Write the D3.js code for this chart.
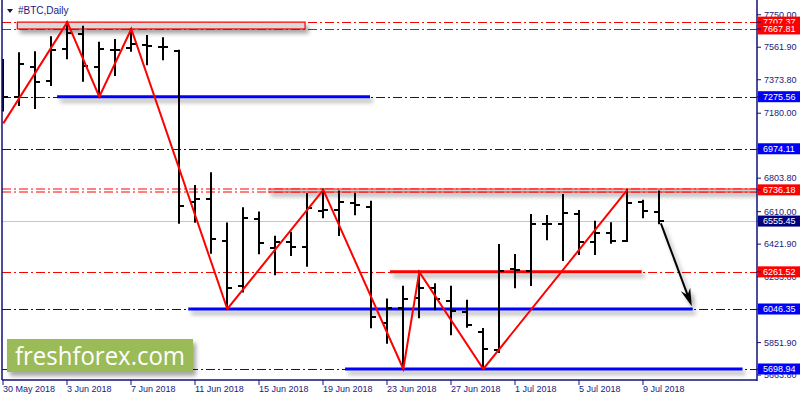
<!DOCTYPE html>
<html><head><meta charset="utf-8">
<script src="https://cdn.jsdelivr.net/npm/d3@7"></script>
<style>html,body{margin:0;padding:0;background:#fff;}svg{display:block;}</style>
</head><body>
<svg id="c" width="800" height="400"></svg>
<script>
// ---- data ----
const startDate = "2018-05-30";
const opens  = [7230,7272,7449,7366,7550,7639,7449,7546,7556,7575,7565,7542,6668,6683,6442,6180,6570,6398,6436,6407,6616,6620,6662,6639,5964,6054,6112,6166,6094,6031,5911,5809,6276,6266,6537,6537,6595,6432,6485,6440,6668,6610];
const highs  = [7488,7527,7533,7620,7707,7681,7588,7604,7668,7627,7614,7542,6758,6832,6542,6629,6605,6465,6488,6712,6738,6726,6712,6668,6102,6175,6262,6189,6175,6094,5931,6417,6359,6591,6585,6707,6614,6552,6543,6736,6673,6726];
const lows   = [7195,7228,7210,7343,7498,7368,7276,7401,7542,7463,7492,6546,6552,6372,6047,6147,6369,6247,6359,6297,6577,6475,6595,5940,5851,5699,5998,6045,5900,5944,5699,5797,6172,6185,6450,6330,6365,6365,6430,6440,6577,6543];
const closes = [7272,7463,7362,7546,7643,7453,7550,7546,7581,7569,7565,6644,6683,6452,6166,6575,6426,6436,6407,6633,6620,6668,6649,5998,6050,6102,6166,6102,6035,5954,5815,6266,6272,6537,6537,6604,6432,6485,6440,6662,6614,6555.45];

const yTicks = [7750.00,7561.90,7373.80,7180.00,6803.80,6610.00,6421.90,6233.80,5851.90,5663.80];
const xTickDays = [0,4,8,12,16,20,24,28,32,36,40];

// level lines: price, colour, thick segment (day index from/to)
const levelPrices = [7707.37,7667.81,7275.56,6974.11,6736.18,6261.52,6046.35,5698.94];
const levelColors = ["#ff0000","#ff0000","#0000ff","#0000ff","#ff0000","#ff0000","#0000ff","#0000ff"];
const segFrom = [null,null,3.36,null,16.54,24.17,11.56,21.36];
const segTo   = [null,null,22.92,null,47.2,39.9,43.09,46.2];
const bidPrice = 6555.45;

const rectBox = {from:0.875, to:18.86, top:7707.37, bottom:7667.81};

const zigDays   = [0,4,6,8,14,20,25,26,30,39];
const zigPrices = [7121,7707.37,7275.56,7667.81,6046.35,6736.18,5698.94,6261.52,5698.94,6736.18];

const arrowDays   = [41.1,43.03];
const arrowPrices = [6542,6062];

// ---- scales ----
const W=800,H=400, L=2, R=757, T=2, B=380;
const base = d3.utcParse("%Y-%m-%d")(startDate);
const dayDate = i => new Date(base.getTime()+i*864e5);
const x = d3.scaleUtc().domain([base, dayDate(40)]).range([3.3, 643.3]);
const xi = i => x(dayDate(i));
const y = d3.scaleLinear().domain([7275.56,5698.94]).range([96.7,369]);

const svg = d3.select("#c");
const defs = svg.append("defs");
const f = defs.append("filter").attr("id","sh").attr("filterUnits","userSpaceOnUse")
  .attr("x",0).attr("y",0).attr("width",W).attr("height",H);
f.append("feDropShadow").attr("dx",3).attr("dy",4).attr("stdDeviation",2.2).attr("flood-color","#000").attr("flood-opacity",0.35);
defs.append("clipPath").attr("id","clip").append("rect").attr("x",L).attr("y",T).attr("width",R-L).attr("height",B-T);

const g = svg.append("g").attr("clip-path","url(#clip)");

// bid line
g.append("line").attr("x1",L).attr("x2",R).attr("y1",Math.round(y(bidPrice))+0.5).attr("y2",Math.round(y(bidPrice))+0.5).attr("stroke","#c8c8c8").attr("stroke-width",1);

// dash-dot level lines
levelPrices.forEach((p,i)=>{
  const yy = Math.round(y(p))+0.5;
  if(p===6736.18){
    [-1.5,1.5].forEach(o=>g.append("line").attr("x1",L).attr("x2",R).attr("y1",yy+o).attr("y2",yy+o)
      .attr("stroke",levelColors[i]).attr("stroke-width",1).attr("stroke-dasharray","9,3,2,3"));
  } else {
    g.append("line").attr("x1",L).attr("x2",R).attr("y1",yy).attr("y2",yy)
      .attr("stroke",levelColors[i]).attr("stroke-width",1).attr("stroke-dasharray","9,3,2,3");
  }
});

// rectangle
g.append("rect").attr("x",xi(rectBox.from)).attr("y",y(rectBox.top))
  .attr("width",xi(rectBox.to)-xi(rectBox.from)).attr("height",y(rectBox.bottom)-y(rectBox.top))
  .attr("fill","#d9d9d9").attr("stroke","#ff0000").attr("stroke-width",1.2).attr("filter","url(#sh)");

// thick segments
levelPrices.forEach((p,i)=>{
  if(segFrom[i]===null) return;
  const yy = y(p);
  if(p===6736.18){
    const gg = g.append("g").attr("filter","url(#sh)");
    gg.append("line").attr("x1",xi(segFrom[i])).attr("x2",xi(segTo[i])).attr("y1",Math.round(yy)+0.5).attr("y2",Math.round(yy)+0.5)
      .attr("stroke","#d0d0d0").attr("stroke-width",2);
    [-1.5,1.5].forEach(o=>gg.append("line").attr("x1",xi(segFrom[i])).attr("x2",xi(segTo[i])).attr("y1",Math.round(yy)+0.5+o).attr("y2",Math.round(yy)+0.5+o)
      .attr("stroke","#ff0000").attr("stroke-width",1));
  } else {
    g.append("line").attr("x1",xi(segFrom[i])).attr("x2",xi(segTo[i])).attr("y1",yy).attr("y2",yy)
      .attr("stroke",levelColors[i]).attr("stroke-width",3).attr("filter","url(#sh)");
  }
});

// OHLC bars
const bars = g.append("g").attr("stroke","#000").attr("stroke-width",2);
opens.forEach((o,i)=>{
  const cx = Math.round(xi(i));
  bars.append("line").attr("x1",cx).attr("x2",cx).attr("y1",y(highs[i])-1).attr("y2",y(lows[i])+1);
  bars.append("line").attr("x1",cx-5).attr("x2",cx).attr("y1",Math.round(y(o))).attr("y2",Math.round(y(o)));
  bars.append("line").attr("x1",cx).attr("x2",cx+5).attr("y1",Math.round(y(closes[i]))).attr("y2",Math.round(y(closes[i])));
});

// zigzag
g.append("path").attr("d",d3.line()(zigDays.map((d,i)=>[xi(d),y(zigPrices[i])])))
  .attr("fill","none").attr("stroke","#ff0000").attr("stroke-width",2);

// arrow
const ax1=xi(arrowDays[0]), ay1=y(arrowPrices[0]), ax2=xi(arrowDays[1]), ay2=y(arrowPrices[1]);
const ang = Math.atan2(ay2-ay1, ax2-ax1);
const ag = g.append("g").attr("filter","url(#sh)");
ag.append("line").attr("x1",ax1).attr("y1",ay1).attr("x2",ax2-Math.cos(ang)*10).attr("y2",ay2-Math.sin(ang)*10)
  .attr("stroke","#000").attr("stroke-width",2);
const hl=18, hw=5;
const bx=ax2-Math.cos(ang)*hl, by=ay2-Math.sin(ang)*hl;
ag.append("path").attr("d",`M${ax2},${ay2}L${bx+Math.sin(ang)*hw},${by-Math.cos(ang)*hw}L${ax2-Math.cos(ang)*12},${ay2-Math.sin(ang)*12}L${bx-Math.sin(ang)*hw},${by+Math.cos(ang)*hw}Z`)
  .attr("fill","#000");

// logo
const lg = svg.append("g");
lg.append("rect").attr("x",7).attr("y",339).attr("width",186).attr("height",33).attr("fill","#9bbb59")
  .attr("filter","url(#sh)");
lg.append("text").attr("x",15).attr("y",365).attr("fill","#fff").attr("font-family","Open Sans")
  .attr("font-size",25).attr("textLength",170).attr("lengthAdjust","spacingAndGlyphs").text("freshforex.com");

// frame
const navy="#10107a";
svg.append("line").attr("x1",2).attr("x2",2).attr("y1",0).attr("y2",B).attr("stroke",navy).attr("stroke-width",1.5);
svg.append("line").attr("x1",R).attr("x2",R).attr("y1",0).attr("y2",B+1).attr("stroke",navy).attr("stroke-width",1.5);
svg.append("line").attr("x1",2).attr("x2",R).attr("y1",B).attr("y2",B).attr("stroke",navy).attr("stroke-width",1.5);

// title
svg.append("path").attr("d","M7,9L13,9L10,13Z").attr("fill","#10104a");
svg.append("text").attr("x",18).attr("y",14).attr("font-family","Liberation Sans, Arial").attr("font-size",10).attr("fill","#1a1a80").text("#BTC,Daily");

// y axis ticks
const ya = svg.append("g").attr("font-family","Liberation Sans, Arial").attr("font-size",9);
yTicks.forEach(v=>{
  const yy=y(v);
  ya.append("line").attr("x1",R).attr("x2",R+4).attr("y1",yy).attr("y2",yy).attr("stroke",navy);
  ya.append("text").attr("x",764).attr("y",yy).attr("dy","0.35em").attr("fill","#1a1a80").text(d3.format(".2f")(v));
});
// level labels
const labPrices = levelPrices.concat([bidPrice]);
const labColors = levelColors.concat(["#000080"]);
labPrices.forEach((p,i)=>{
  const yy=y(p);
  ya.append("rect").attr("x",758).attr("y",yy-5.5).attr("width",42).attr("height",11).attr("fill",labColors[i]);
  ya.append("line").attr("x1",R).attr("x2",R+4).attr("y1",yy).attr("y2",yy).attr("stroke",navy);
  ya.append("text").attr("x",763).attr("y",yy).attr("dy","0.35em").attr("fill","#fff").text(d3.format(".2f")(p));
});

// x axis
const fmt = d3.utcFormat("%-d %b %Y");
const xa = svg.append("g").attr("font-family","Liberation Sans, Arial").attr("font-size",9);
xTickDays.forEach(d=>{
  const xx=Math.round(xi(d));
  xa.append("line").attr("x1",xx).attr("x2",xx).attr("y1",B).attr("y2",B+5).attr("stroke",navy);
  xa.append("text").attr("x",xx).attr("y",392).attr("fill","#1a1a80").text(fmt(dayDate(d)));
});
</script>
</body></html>
